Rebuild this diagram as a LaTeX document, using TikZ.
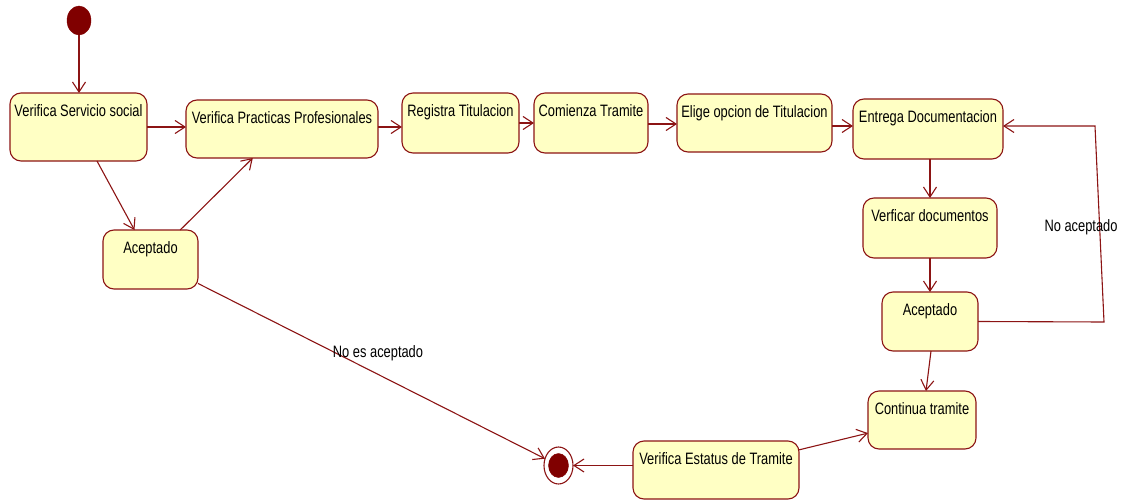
\documentclass[tikz,border=0pt]{standalone}
\usepackage{fontspec}
\setmainfont{Liberation Sans}[FakeStretch=0.78]
\usetikzlibrary{arrows.meta,shapes.geometric}
\definecolor{umlred}{RGB}{140,20,20}
\definecolor{umldot}{RGB}{128,0,0}
\definecolor{umlfill}{RGB}{255,255,196}
\tikzset{
  every node/.style={font=\fontsize{16.5}{18}\selectfont},
  statebox/.style={draw=umlred, fill=umlfill, line width=1.1pt, rounded corners=11pt,
    inner sep=0pt, outer sep=0pt},
  statename/.style={anchor=base, inner sep=0pt, yshift=-23.5pt},
  initdot/.style={ellipse, fill=umldot, draw=umldot, inner sep=0pt, outer sep=0pt},
  finalring/.style={ellipse, fill=white, draw=umlred, line width=1.1pt, inner sep=0pt, outer sep=0pt},
  trans/.style={draw=umlred, line width=1.1pt, -{Straight Barb[length=10pt,width=13pt,line width=1.1pt]}},
  guard/.style={inner sep=0pt, text=black},
}
% state: name, centre, width, height, title
\newcommand{\umlstate}[5]{%
  \node[statebox, minimum width=#3, minimum height=#4,
        label={[statename]north:#5}] (#1) at #2 {};}
\begin{document}
\begin{tikzpicture}[x=1pt, y=-1pt]
\useasboundingbox (0,0) rectangle (1124,500);

% initial and final pseudo states
\node[initdot, minimum width=24pt, minimum height=29pt] (start) at (79,20.5) {};
\node[finalring, minimum width=29pt, minimum height=37pt] (end) at (558.5,465.5) {};
\node[initdot, minimum width=20pt, minimum height=24pt] (endcore) at (end) {};

% states
\umlstate{vss}{(78.5,127)}{137pt}{68pt}{Verifica Servicio social}
\umlstate{vpp}{(282,129)}{192pt}{58pt}{Verifica Practicas Profesionales}
\umlstate{reg}{(460.5,123)}{117pt}{60pt}{Registra Titulacion}
\umlstate{com}{(591,123)}{114pt}{60pt}{Comienza Tramite}
\umlstate{eli}{(754.5,123)}{155pt}{58pt}{Elige opcion de Titulacion}
\umlstate{ent}{(928,129)}{150pt}{60pt}{Entrega Documentacion}
\umlstate{ver}{(930,228)}{134pt}{60pt}{Verficar documentos}
\umlstate{acr}{(930,321.5)}{96pt}{59pt}{Aceptado}
\umlstate{ct}{(922,420)}{108pt}{58pt}{Continua tramite}
\umlstate{vet}{(716,470)}{166pt}{58pt}{Verifica Estatus de Tramite}
\umlstate{acl}{(150.5,259.5)}{95pt}{59pt}{Aceptado}

% transitions
\draw[trans] (start) -- (start |- vss.north);
\draw[trans] (vss.east) -- (vss.east -| vpp.west);
\draw[trans] (vss) -- (acl);
\draw[trans] (acl) -- (vpp);
\draw[trans] ([yshift=2pt]vpp.east) -- ([yshift=2pt]vpp.east -| reg.west);
\draw[trans] (reg.east) -- (com.west);
\draw[trans] ([yshift=-1pt]com.east) -- ([yshift=-1pt]com.east -| eli.west);
\draw[trans] ([yshift=-3pt]eli.east) -- ([yshift=-3pt]eli.east -| ent.west);
\draw[trans] ([xshift=2pt]ent.south) -- (ver.north);
\draw[trans] (ver.south) -- (acr.north);

\coordinate (loopa) at (1104,322);
\coordinate (loopb) at (1095,126);
\draw[trans] (acr.east) -- (loopa) -- (loopb) -- (loopb -| ent.east);
\node[guard] (noacep) at (1081,227) {No aceptado};

\draw[trans] ([xshift=1pt]acr.south) -- ([xshift=4pt]ct.north);
\draw[trans] (vet) -- (ct);
\draw[trans] (vet.west |- end) -- (end);
\draw[trans] (acl) -- (end);
\node[guard] (noesacep) at (378,353) {No es aceptado};
\end{tikzpicture}
\end{document}
